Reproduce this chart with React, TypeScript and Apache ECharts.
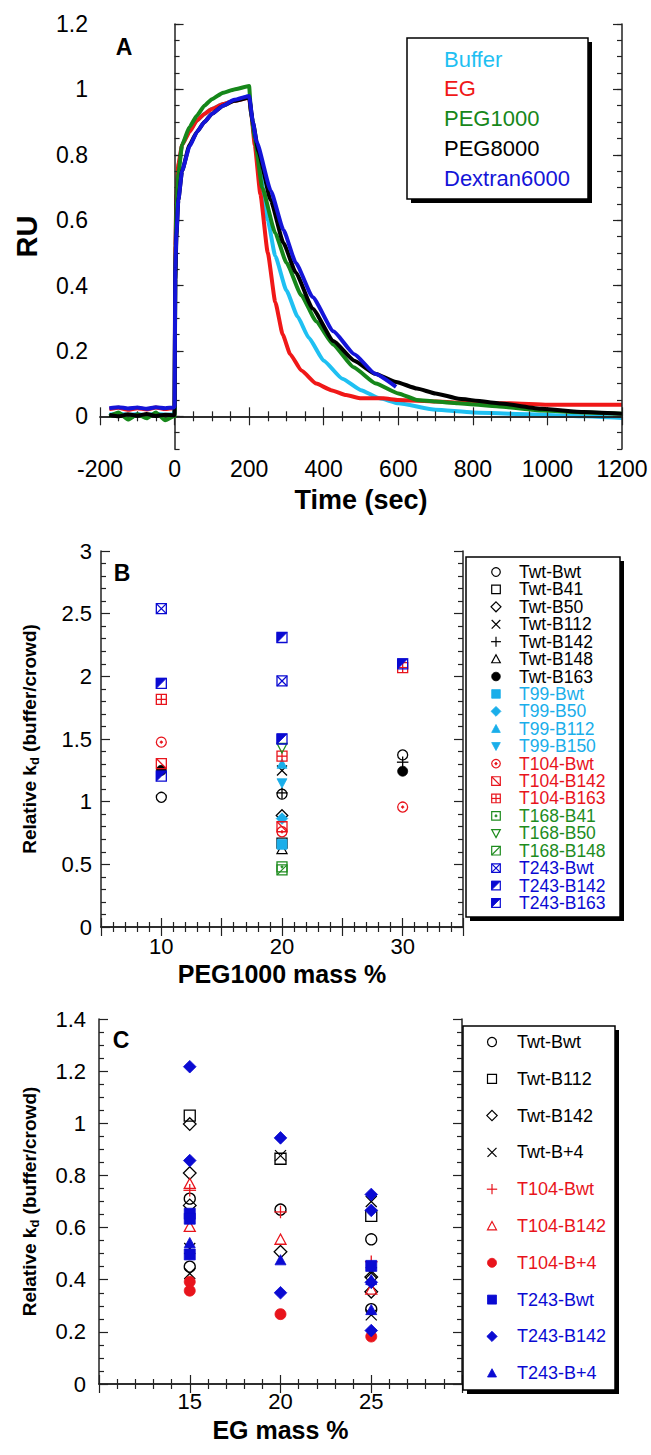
import React, { useEffect, useRef } from "react";
import * as echarts from "echarts";

const FONT = "'Liberation Sans', Arial, Helvetica, sans-serif";

// ---------------- Panel A : sensorgrams ----------------
const aSeriesNames = ["Buffer", "EG", "PEG1000", "PEG8000", "Dextran6000"];

const aBufferTime = [-175, -150, -125, -100, -75, -50, -25, -2, 0, 2, 5, 10, 20, 40, 60, 80, 100, 130, 160, 200, 205, 215, 230, 250, 270, 300, 330, 360, 400, 450, 500, 550, 600, 700, 800, 900, 1000, 1100, 1200];
const aBufferRU = [0.005, 0.008, 0.004, 0.007, 0.003, 0.008, 0.005, 0.006, 0.02, 0.5, 0.66, 0.75, 0.83, 0.875, 0.905, 0.925, 0.94, 0.955, 0.965, 0.98, 0.93, 0.85, 0.74, 0.6, 0.49, 0.385, 0.305, 0.24, 0.17, 0.115, 0.08, 0.055, 0.04, 0.02, 0.012, 0.008, 0.004, 0.0, -0.005];

const aEGTime = [-175, -150, -125, -100, -75, -50, -25, -2, 0, 2, 5, 10, 20, 40, 60, 80, 100, 130, 160, 200, 205, 215, 230, 250, 270, 290, 310, 340, 380, 420, 460, 500, 560, 600, 700, 800, 900, 1000, 1100, 1200];
const aEGRU = [0.022, 0.026, 0.02, 0.025, 0.021, 0.027, 0.022, 0.025, 0.03, 0.52, 0.68, 0.77, 0.83, 0.87, 0.905, 0.925, 0.94, 0.955, 0.965, 0.975, 0.93, 0.83, 0.68, 0.5, 0.35, 0.25, 0.19, 0.14, 0.1, 0.08, 0.065, 0.055, 0.055, 0.05, 0.045, 0.04, 0.04, 0.035, 0.035, 0.035];

const aPEG1000Time = [-175, -150, -125, -100, -75, -50, -25, -2, 0, 2, 5, 10, 20, 40, 60, 80, 100, 130, 160, 200, 205, 215, 235, 270, 300, 340, 380, 425, 480, 540, 600, 650, 700, 760, 870, 985, 1100, 1200];
const aPEG1000RU = [0.0, 0.012, -0.01, 0.006, -0.006, 0.012, -0.012, 0.0, 0.0, 0.45, 0.62, 0.74, 0.83, 0.885, 0.92, 0.95, 0.97, 0.99, 1.0, 1.01, 0.93, 0.85, 0.7, 0.56, 0.47, 0.37, 0.29, 0.22, 0.15, 0.1, 0.07, 0.05, 0.045, 0.04, 0.03, 0.018, 0.012, 0.008];

const aPEG8000Time = [-175, -150, -125, -100, -75, -50, -25, -2, 0, 2, 5, 10, 20, 40, 60, 80, 100, 130, 160, 200, 210, 225, 258, 292, 325, 370, 426, 482, 538, 594, 650, 700, 762, 874, 985, 1097, 1200];
const aPEG8000RU = [0.004, 0.0, 0.006, 0.002, 0.007, 0.001, 0.005, 0.003, 0.005, 0.42, 0.55, 0.66, 0.75, 0.83, 0.87, 0.9, 0.925, 0.95, 0.965, 0.975, 0.9, 0.81, 0.66, 0.53, 0.44, 0.33, 0.23, 0.17, 0.13, 0.105, 0.085, 0.07, 0.054, 0.039, 0.023, 0.013, 0.008];

const aDextranTime = [-175, -150, -125, -100, -75, -50, -25, -2, 0, 2, 5, 10, 20, 40, 60, 80, 100, 130, 160, 200, 210, 220, 258, 292, 325, 370, 426, 482, 538, 594];
const aDextranRU = [0.025, 0.028, 0.024, 0.027, 0.023, 0.028, 0.025, 0.027, 0.03, 0.45, 0.56, 0.66, 0.75, 0.825, 0.87, 0.9, 0.925, 0.95, 0.968, 0.98, 0.9, 0.84, 0.69, 0.57, 0.47, 0.365, 0.26, 0.19, 0.13, 0.09];

const aXTicks = { min: -200, max: 1200, step: 200 };
const aYLabels = [0, 0.2, 0.4, 0.6, 0.8, 1, 1.2];

// ---------------- Panel B : PEG1000 ----------------
const bNames = ["Twt-Bwt", "Twt-B41", "Twt-B50", "Twt-B112", "Twt-B142", "Twt-B148", "Twt-B163", "T99-Bwt", "T99-B50", "T99-B112", "T99-B150", "T104-Bwt", "T104-B142", "T104-B163", "T168-B41", "T168-B50", "T168-B148", "T243-Bwt", "T243-B142", "T243-B163"];
const bValues: number[][][] = [
  [[10, 1.035], [20, 1.06], [30, 1.373]],
  [[20, 0.67]],
  [[20, 0.89]],
  [[20, 1.248]],
  [[20, 1.07], [30, 1.315]],
  [[20, 0.62]],
  [[10, 1.25], [30, 1.243]],
  [[20, 0.66]],
  [[20, 0.865]],
  [[20, 1.3]],
  [[20, 1.149]],
  [[10, 1.475], [20, 0.76], [30, 0.957]],
  [[10, 1.304], [20, 0.8]],
  [[10, 1.816], [20, 1.363], [30, 2.07]],
  [[20, 0.48]],
  [[20, 1.43]],
  [[20, 0.456]],
  [[10, 2.54], [20, 1.963]],
  [[10, 1.944], [20, 1.5]],
  [[10, 1.203], [20, 2.31], [30, 2.1]],
];

// ---------------- Panel C : EG ----------------
const cNames = ["Twt-Bwt", "Twt-B112", "Twt-B142", "Twt-B+4", "T104-Bwt", "T104-B142", "T104-B+4", "T243-Bwt", "T243-B142", "T243-B+4"];
const cValues: number[][][] = [
  [[15, 0.711], [15, 0.45], [20, 0.669], [25, 0.555], [25, 0.287]],
  [[15, 1.029], [20, 0.864], [25, 0.645]],
  [[15, 0.997], [15, 0.809], [15, 0.685], [20, 0.507], [25, 0.41], [25, 0.354]],
  [[15, 0.52], [15, 0.424], [20, 0.876], [25, 0.7], [25, 0.427], [25, 0.265]],
  [[15, 0.743], [20, 0.66], [25, 0.469]],
  [[15, 0.768], [15, 0.603], [20, 0.554], [25, 0.363]],
  [[15, 0.392], [15, 0.358], [20, 0.268], [25, 0.182]],
  [[15, 0.653], [15, 0.634], [15, 0.497], [25, 0.453]],
  [[15, 1.217], [15, 0.857], [20, 0.944], [20, 0.35], [25, 0.727], [25, 0.666], [25, 0.39], [25, 0.205]],
  [[15, 0.541], [20, 0.475], [25, 0.399], [25, 0.284]],
];

// ---------------- styles ----------------
const K = "#000000", CY = "#1aaeea", RD = "#e8141c", GR = "#1e8c1e", BL = "#0a0ad2";
const aColors = ["#1fc0f2", "#f01818", "#16871a", "#000000", "#1414d8"];
const bColors = [K, K, K, K, K, K, K, CY, CY, CY, CY, RD, RD, RD, GR, GR, GR, BL, BL, BL];
const bMarkers = ["circle", "square", "diamond", "cross", "plus", "triangle", "dot", "fsquare", "fdiamond", "ftriangle", "fdtriangle", "circleDot", "sqBack", "sqPlus", "sqDot", "dtriangle", "sqSlash", "sqX", "sqHalf", "sqHalf"];
const cColors = [K, K, K, K, RD, RD, RD, BL, BL, BL];
const cMarkers = ["circle", "square", "diamond", "cross", "plus", "triangle", "dot", "fsquare", "fdiamond", "ftriangle"];

function mk(m: string, color: string, h: number, lw: number, z?: number): any[] {
  const S = () => ({ stroke: color, lineWidth: lw, fill: "none" });
  const F = () => ({ fill: color, stroke: color, lineWidth: 0.8 });
  const rect = () => ({ type: "rect", shape: { x: -h, y: -h, width: 2 * h, height: 2 * h }, style: S() });
  const line = (x1: number, y1: number, x2: number, y2: number) => ({ type: "line", shape: { x1, y1, x2, y2 }, style: { stroke: color, lineWidth: lw } });
  const poly = (pts: number[][], st: any) => ({ type: "polygon", shape: { points: pts }, style: st });
  const d = h * 1.15;
  let out: any[] = [];
  switch (m) {
    case "circle": out = [{ type: "circle", shape: { cx: 0, cy: 0, r: h }, style: S() }]; break;
    case "dot": out = [{ type: "circle", shape: { cx: 0, cy: 0, r: h }, style: F() }]; break;
    case "square": out = [rect()]; break;
    case "fsquare": out = [{ type: "rect", shape: { x: -h, y: -h, width: 2 * h, height: 2 * h }, style: F() }]; break;
    case "diamond": out = [poly([[0, -d], [d, 0], [0, d], [-d, 0]], S())]; break;
    case "fdiamond": out = [poly([[0, -d], [d, 0], [0, d], [-d, 0]], F())]; break;
    case "cross": out = [line(-h, -h, h, h), line(-h, h, h, -h)]; break;
    case "plus": out = [line(-d, 0, d, 0), line(0, -d, 0, d)]; break;
    case "triangle": out = [poly([[0, -h], [h, h * 0.85], [-h, h * 0.85]], S())]; break;
    case "ftriangle": out = [poly([[0, -h], [h, h * 0.85], [-h, h * 0.85]], F())]; break;
    case "dtriangle": out = [poly([[0, h], [h, -h * 0.85], [-h, -h * 0.85]], S())]; break;
    case "fdtriangle": out = [poly([[0, h], [h, -h * 0.85], [-h, -h * 0.85]], F())]; break;
    case "circleDot": out = [{ type: "circle", shape: { cx: 0, cy: 0, r: h }, style: S() }, { type: "circle", shape: { cx: 0, cy: 0, r: 1.2 }, style: F() }]; break;
    case "sqBack": out = [rect(), line(-h, -h, h, h)]; break;
    case "sqSlash": out = [rect(), line(-h, h, h, -h)]; break;
    case "sqPlus": out = [rect(), line(-h, 0, h, 0), line(0, -h, 0, h)]; break;
    case "sqDot": out = [rect(), { type: "circle", shape: { cx: 0, cy: 0, r: 1.1 }, style: F() }]; break;
    case "sqX": out = [rect(), line(-h, -h, h, h), line(-h, h, h, -h)]; break;
    case "sqHalf": out = [poly([[-h, -h], [h, -h], [-h, h]], F()), rect()]; break;
  }
  if (z !== undefined) out.forEach((e) => (e.z = z));
  return out;
}

const LINE = { show: true, lineStyle: { color: "#222", width: 1.5 } };
const TICK = { color: "#222", width: 1.2 };

function axis(gridIndex: number, position: string, o: any): any {
  const a: any = {
    type: "value",
    gridIndex,
    position,
    min: o.min,
    max: o.max,
    interval: o.interval,
    axisLine: o.noLine ? { show: false } : LINE,
    axisTick: Object.assign({ show: true, inside: true, length: o.tickLen || 9, lineStyle: TICK }, o.customTicks ? { customValues: o.customTicks } : {}),
    minorTick: o.minor ? { show: true, splitNumber: o.minor, length: 5, lineStyle: TICK } : { show: false },
    splitLine: { show: false },
    minorSplitLine: { show: false },
    axisLabel: o.label
      ? Object.assign({ show: true, color: "#000", fontFamily: FONT, fontSize: o.label.size, margin: o.label.margin, formatter: o.label.fmt }, o.customLabels ? { customValues: o.customLabels } : {})
      : { show: false },
    z: 5,
  };
  if (o.name) {
    a.name = o.name;
    a.nameLocation = "middle";
    a.nameGap = o.nameGap;
    a.nameTextStyle = Object.assign({ fontFamily: FONT, fontWeight: "bold", fontSize: o.nameSize, color: "#000" }, o.rich ? { rich: o.rich } : {});
  }
  return a;
}

const fmtNum = (v: number) => String(parseFloat(Number(v).toFixed(2)));

const App: React.FC = () => {
  const ref = useRef<HTMLDivElement>(null);

  useEffect(() => {
    if (!ref.current) return;
    const chart = echarts.init(ref.current, undefined, { renderer: "svg" });

    const grids = [
      { left: 100, top: 24, width: 522, height: 425, outerBoundsMode: "none" },
      { left: 101, top: 551, width: 362, height: 376, outerBoundsMode: "none" },
      { left: 99, top: 1019, width: 363, height: 365, outerBoundsMode: "none" },
    ];

    const xAxes: any[] = [];
    const yAxes: any[] = [];
    const richKd = { d: { fontFamily: FONT, fontWeight: "bold", fontSize: 13, padding: [11, 0, 0, 0] } };

    // Panel A axes
    const aX = xAxes.length;
    xAxes.push(axis(0, "bottom", { min: aXTicks.min, max: aXTicks.max, interval: aXTicks.step, minor: 4, label: { size: 23, margin: 8, fmt: fmtNum }, name: "Time (sec)", nameGap: 37, nameSize: 27 }));
    xAxes.push(axis(0, "top", { min: aXTicks.min, max: aXTicks.max, interval: aXTicks.step, minor: 4 }));
    const aY = yAxes.length;
    yAxes.push(axis(0, "left", { min: -0.1, max: 1.2, interval: 0.05, tickLen: 5, label: { size: 23, margin: 12, fmt: fmtNum }, customLabels: aYLabels, name: "RU", nameGap: 59, nameSize: 29 }));
    yAxes.push(axis(0, "left", { min: -0.1, max: 1.2, interval: 0.05, noLine: true, customTicks: aYLabels }));
    yAxes.push(axis(0, "right", { min: -0.1, max: 1.2, interval: 0.05, tickLen: 5 }));
    yAxes.push(axis(0, "right", { min: -0.1, max: 1.2, interval: 0.05, noLine: true, customTicks: aYLabels }));

    // Panel B axes
    const bX = xAxes.length;
    const fmtB = (v: number) => (v === 10 || v === 20 || v === 30 ? String(v) : "");
    xAxes.push(axis(1, "bottom", { min: 5, max: 35, interval: 5, minor: 5, label: { size: 22, margin: 8, fmt: fmtB }, name: "PEG1000 mass %", nameGap: 34, nameSize: 25 }));
    xAxes.push(axis(1, "top", { min: 5, max: 35, interval: 5, minor: 5 }));
    const bY = yAxes.length;
    yAxes.push(axis(1, "left", { min: 0, max: 3, interval: 0.5, minor: 5, label: { size: 22, margin: 9, fmt: fmtNum }, name: "Relative k{d|d} (buffer/crowd)", nameGap: 60, nameSize: 19, rich: richKd }));
    yAxes.push(axis(1, "right", { min: 0, max: 3, interval: 0.5, minor: 5 }));

    // Panel C axes
    const cX = xAxes.length;
    const fmtC = (v: number) => (v === 15 || v === 20 || v === 25 ? String(v) : "");
    xAxes.push(axis(2, "bottom", { min: 10, max: 30, interval: 5, minor: 5, label: { size: 22, margin: 6, fmt: fmtC }, name: "EG mass %", nameGap: 33, nameSize: 25 }));
    xAxes.push(axis(2, "top", { min: 10, max: 30, interval: 5, minor: 5 }));
    const cY = yAxes.length;
    yAxes.push(axis(2, "left", { min: 0, max: 1.4, interval: 0.2, minor: 4, label: { size: 22, margin: 13, fmt: fmtNum }, name: "Relative k{d|d} (buffer/crowd)", nameGap: 58, nameSize: 19, rich: richKd }));
    yAxes.push(axis(2, "right", { min: 0, max: 1.4, interval: 0.2, minor: 4 }));

    const zip = (t: number[], v: number[]) => t.map((x, i) => [x, v[i]]);
    const aData = [zip(aBufferTime, aBufferRU), zip(aEGTime, aEGRU), zip(aPEG1000Time, aPEG1000RU), zip(aPEG8000Time, aPEG8000RU), zip(aDextranTime, aDextranRU)];

    const series: any[] = [];
    aData.forEach((d, i) => {
      series.push({
        type: "line",
        name: aSeriesNames[i],
        xAxisIndex: aX,
        yAxisIndex: aY,
        data: d,
        showSymbol: false,
        smooth: 0.15,
        smoothMonotone: "x",
        lineStyle: { color: aColors[i], width: 4 },
        itemStyle: { color: aColors[i] },
        z: 3 + i,
      });
    });

    const scatter = (name: string, data: number[][], xi: number, yi: number, marker: string, color: string, h: number) => ({
      type: "custom",
      name,
      coordinateSystem: "cartesian2d",
      xAxisIndex: xi,
      yAxisIndex: yi,
      data,
      clip: false,
      encode: { x: 0, y: 1 },
      z: 4,
      renderItem: (_p: any, api: any) => {
        const pt = api.coord([api.value(0), api.value(1)]);
        return { type: "group", x: pt[0], y: pt[1], children: mk(marker, color, h, 1.3) };
      },
    });

    bNames.forEach((n, i) => series.push(scatter(n, bValues[i], bX, bY, bMarkers[i], bColors[i], 5)));
    cNames.forEach((n, i) => series.push(scatter(n, cValues[i], cX, cY, cMarkers[i], cColors[i], 5.5)));

    // Graphic: panel letters and legends
    const g: any[] = [];
    const letter = (t: string, x: number, y: number) => ({ type: "text", x, y, z: 20, style: { text: t, fill: "#000", fontFamily: FONT, fontWeight: "bold", fontSize: 23, align: "center", verticalAlign: "middle" } });
    g.push(letter("A", 124, 47), letter("B", 122, 573), letter("C", 121, 1040));

    const box = (x: number, y: number, w: number, h: number) => [
      { type: "rect", z: 20, shape: { x: x + 4, y: y + 4, width: w, height: h }, style: { fill: "#000" } },
      { type: "rect", z: 21, shape: { x, y, width: w, height: h }, style: { fill: "#fff", stroke: "#000", lineWidth: 1.5 } },
    ];

    // Legend A
    g.push(...box(407, 38, 181, 161));
    aSeriesNames.forEach((n, i) => {
      g.push({ type: "text", x: 444, y: 59 + i * 29.8, z: 22, style: { text: n, fill: aColors[i], fontFamily: FONT, fontSize: 22, align: "left", verticalAlign: "middle" } });
    });

    // Legend B
    g.push(...box(466, 557, 154, 360));
    bNames.forEach((n, i) => {
      const yy = 572 + i * 17.42;
      g.push({ type: "group", x: 496, y: yy, z: 23, children: mk(bMarkers[i], bColors[i], 4.3, 1.2, 23) });
      g.push({ type: "text", x: 519, y: yy, z: 22, style: { text: n, fill: bColors[i], fontFamily: FONT, fontSize: 17.5, align: "left", verticalAlign: "middle" } });
    });

    // Legend C
    g.push(...box(463, 1026, 152, 364));
    cNames.forEach((n, i) => {
      const yy = 1042 + i * 36.8;
      g.push({ type: "group", x: 492, y: yy, z: 23, children: mk(cMarkers[i], cColors[i], 4.5, 1.2, 23) });
      g.push({ type: "text", x: 517, y: yy, z: 22, style: { text: n, fill: cColors[i], fontFamily: FONT, fontSize: 18, align: "left", verticalAlign: "middle" } });
    });

    chart.setOption({
      animation: false,
      backgroundColor: "#ffffff",
      textStyle: { fontFamily: FONT },
      grid: grids,
      xAxis: xAxes,
      yAxis: yAxes,
      series,
      graphic: { elements: g },
    });

    return () => chart.dispose();
  }, []);

  return <div ref={ref} style={{ position: "fixed", left: 0, top: 0, width: 651, height: 1455, background: "#fff" }} />;
};

export default App;
